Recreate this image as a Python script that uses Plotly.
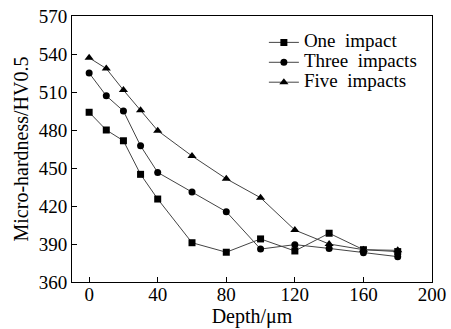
import plotly.graph_objects as go

depth = [0, 10, 20, 30, 40, 60, 80, 100, 120, 140, 160, 180]
one_impact = [494, 480, 471.5, 445, 425.5, 391, 383.5, 394, 384.5, 398.5, 385.5, 384]
three_impacts = [525, 507, 495, 467.5, 446.5, 431, 415.5, 386, 389.5, 386.5, 383, 380]
five_impacts = [537, 528.5, 511.5, 495.5, 479.5, 459.5, 441.5, 426.5, 401, 390, 385.5, 385]

series = [
    ("One impact", one_impact, "square", 7),
    ("Three impacts", three_impacts, "circle", 7),
    ("Five impacts", five_impacts, "triangle-up", 8),
]

font = "Liberation Serif"
fig = go.Figure()
for name, vals, sym, sz in series:
    label = "<span style='font-size:19px'>" + name.replace(" ", "\u00a0 ") + "</span>"
    fig.add_trace(go.Scatter(
        x=depth, y=vals, name=label, mode="lines+markers",
        line=dict(color="#444444", width=1),
        marker=dict(symbol=sym, size=sz, color="black"),
    ))

axis_common = dict(
    showline=True, linecolor="black", linewidth=1, mirror=True, automargin=False,
    ticks="inside", ticklen=5, tickcolor="black", showgrid=False, zeroline=False,
    ticklabeloverflow="allow",
    tickfont=dict(family=font, size=19, color="black"),
)
fig.update_xaxes(range=[-10, 200], dtick=40, tick0=0, ticklabelstandoff=-5,
                 title=dict(text="Depth/μm", font=dict(family=font, size=20, color="black"), standoff=0),
                 **axis_common)
fig.update_yaxes(range=[360, 570], dtick=30, tick0=360,
                 title=dict(text="Micro-hardness/HV0.5", font=dict(family=font, size=20, color="black"), standoff=4),
                 **axis_common)
fig.update_layout(
    template="none",
    width=451, height=329,
    margin=dict(l=72, r=19, t=16, b=47),
    paper_bgcolor="white", plot_bgcolor="white",
    font=dict(family=font, size=16, color="black"),
    legend=dict(x=0.533, y=0.957, xanchor="left", yanchor="top",
                bgcolor="rgba(0,0,0,0)", tracegroupgap=0,
                font=dict(family=font, size=13, color="black")),
)
fig.write_html("out.html", config={"displayModeBar": False},
               post_script="document.body.style.margin='0';")
